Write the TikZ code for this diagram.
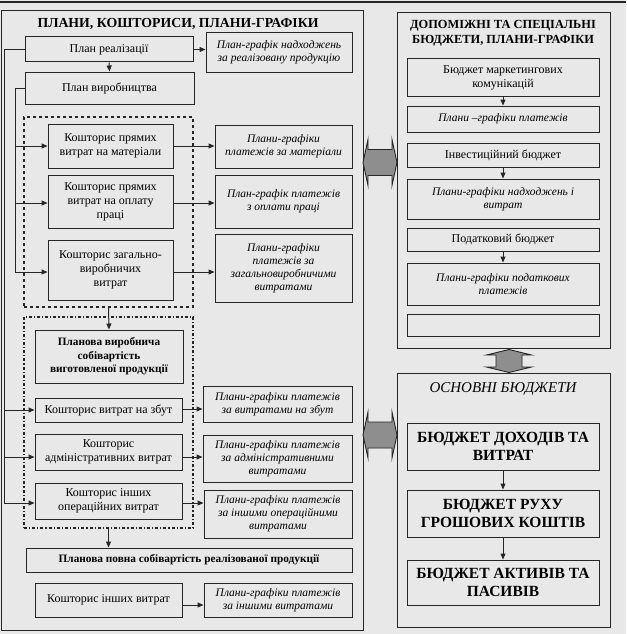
\documentclass[tikz,border=0pt]{standalone}
\usepackage{fontspec}
\setmainfont{Liberation Serif}
\usetikzlibrary{arrows.meta,calc}
\definecolor{Paper}{HTML}{E8E8E8}
\definecolor{Ink}{HTML}{262626}
\definecolor{BlockGrey}{HTML}{8E8E8E}
\begin{document}
\begin{tikzpicture}[x=1pt, y=-1pt,
  box/.style={draw=Ink, fill=Paper, line width=1pt, align=center, inner sep=2pt, font=\fontsize{12}{14}\selectfont},
  ibox/.style={box, font=\fontsize{11.5}{13}\selectfont\itshape},
  bbox/.style={box, font=\fontsize{11.3}{13.5}\selectfont\bfseries},
  bigbox/.style={box, font=\fontsize{15.5}{18}\selectfont\bfseries},
  panel/.style={draw=Ink, line width=1pt},
  grp/.style={draw=Ink, line width=1.2pt, #1},
  arr/.style={draw=Ink, line width=1pt, -{Triangle[length=6pt,width=5pt]}},
  wire/.style={draw=Ink, line width=1pt},
  blockarrow/.style={draw=Ink, fill=BlockGrey, line width=0.9pt, line join=miter},
]
\useasboundingbox[fill=Paper] (0,0) rectangle (626,634);
% ---------------- frames
\draw[wire, line width=1.3pt] (0,2) -- (626,2);
\draw[panel] (1,11) rectangle (363,630);
\draw[panel] (397,13) rectangle (610,348);
\draw[panel] (397,373) rectangle (610,627);
% ---------------- left column: plans
\node[font=\fontsize{13.8}{16}\selectfont\bfseries] (T1) at (178,24) {ПЛАНИ, КОШТОРИСИ, ПЛАНИ-ГРАФІКИ};
\node[box, minimum width=168pt, minimum height=25pt] (PR) at (109,49.5) {План реалізації};
\node[ibox, minimum width=146pt, minimum height=39pt] (GR) at (279,52.5) {План-графік надходжень\\ за реалізовану продукцію};
\node[box, minimum width=169pt, minimum height=32pt] (PV) at (109.5,88) {План виробництва};
% direct costs group
\node[grp={dashed}, minimum width=169pt, minimum height=190pt] (GA) at (108.5,212) {};
\node[box, minimum width=125pt, minimum height=44pt] (KM) at (110.5,146) {Кошторис прямих\\ витрат на матеріали};
\node[ibox, minimum width=137pt, minimum height=43pt] (GM) at (283.5,146.5) {Плани-графіки\\ платежів за матеріали};
\node[box, minimum width=125pt, minimum height=53pt] (KP) at (110.5,201.5) {Кошторис прямих\\ витрат на оплату\\ праці};
\node[ibox, minimum width=137pt, minimum height=53pt] (GP) at (283.5,201.5) {План-графік платежів\\ з оплати праці};
\node[box, minimum width=125pt, minimum height=60pt] (KV) at (110.5,270) {Кошторис загально-\\ виробничих\\ витрат};
\node[ibox, minimum width=137pt, minimum height=68pt] (GV) at (283.5,268) {Плани-графіки\\ платежів за\\ загальновиробничими\\ витратами};
% operating costs group
\node[grp={dash dot}, minimum width=169pt, minimum height=211pt] (GB) at (108.5,422.5) {};
\node[bbox, minimum width=148pt, minimum height=53pt] (PS) at (109,356.5) {Планова виробнича\\ собівартість\\ виготовленої продукції};
\node[box, minimum width=147pt, minimum height=24pt] (KZ) at (108.5,410) {Кошторис витрат на збут};
\node[ibox, minimum width=149pt, minimum height=36pt] (GZ) at (277.5,404) {Плани-графіки платежів\\ за витратами на збут};
\node[box, minimum width=147pt, minimum height=36pt] (KA) at (108.5,452) {Кошторис\\ адміністративних витрат};
\node[ibox, minimum width=149pt, minimum height=47pt] (GD) at (277.5,458.5) {Плани-графіки платежів\\ за адміністративними\\ витратами};
\node[box, minimum width=147pt, minimum height=36pt] (KO) at (108.5,501) {Кошторис інших\\ операційних витрат};
\node[ibox, minimum width=148pt, minimum height=48pt] (GO) at (278,514) {Плани-графіки платежів\\ за іншими операційними\\ витратами};
\node[bbox, minimum width=326pt, minimum height=24pt] (PF) at (189,560) {Планова повна собівартість реалізованої продукції};
\node[box, minimum width=147pt, minimum height=34pt] (KI) at (108.5,600) {Кошторис інших витрат};
\node[ibox, minimum width=148pt, minimum height=34pt] (GI) at (278,600) {Плани-графіки платежів\\ за іншими витратами};
% feeds from the two plans
\coordinate (spineA) at (4,503);
\coordinate (spineB) at (15,272);
\draw[arr] (PR.west) -| (spineA) -- (KO.west |- spineA);
\draw[arr] (spineA |- KZ.west) -- (KZ.west);
\draw[arr] (spineA |- 0,457) -- (KA.west |- 0,457);
\draw[arr] (PV.west) -| (spineB) -- (KV.west |- spineB);
\draw[arr] (spineB |- KM.west) -- (KM.west);
\draw[arr] (spineB |- 0,203) -- (KP.west |- 0,203);
\draw[arr] (PR.south) -- (PV.north);
\draw[arr] (GA.south) -- (PS.north);
\draw[arr] (GB.south) -- (GB.south |- PF.north);
% costs to payment schedules
\draw[arr] (PR.east) -- (PR.east -| GR.west);
\draw[arr] (KM.east) -- (KM.east -| GM.west);
\draw[arr] (KP.east |- 0,203) -- (GP.west |- 0,203);
\draw[arr] (KV.east |- 0,272) -- (GV.west |- 0,272);
\draw[arr] (KZ.east |- 0,409) -- (GZ.west |- 0,409);
\draw[arr] (KA.east |- 0,457) -- (GD.west |- 0,457);
\draw[arr] (KO.east |- 0,503) -- (GO.west |- 0,503);
\draw[arr] (KI.east |- 0,605) -- (GI.west |- 0,605);
% ---------------- right column: auxiliary budgets
\node[font=\fontsize{12.4}{15}\selectfont\bfseries, align=center] (T2) at (503,33) {ДОПОМІЖНІ ТА СПЕЦІАЛЬНІ\\ БЮДЖЕТИ, ПЛАНИ-ГРАФІКИ};
\node[box, minimum width=192pt, minimum height=37pt] (BM) at (503,77.5) {Бюджет маркетингових\\ комунікацій};
\node[ibox, minimum width=192pt, minimum height=26pt] (GM2) at (503,119) {Плани –графіки платежів};
\node[box, minimum width=192pt, minimum height=24pt] (BI) at (503,155) {Інвестиційний бюджет};
\node[ibox, minimum width=192pt, minimum height=40pt] (GI2) at (503,199) {Плани-графіки надходжень і\\ витрат};
\node[box, minimum width=192pt, minimum height=23pt] (BT) at (503,239.5) {Податковий бюджет};
\node[ibox, minimum width=192pt, minimum height=42pt] (GT) at (503,284) {Плани-графіки податкових\\ платежів};
\node[box, minimum width=192pt, minimum height=22pt] (BE) at (503,325) {};
\draw[arr] (BM.south) -- (GM2.north);
\draw[arr] (BI.south) -- (GI2.north);
\draw[arr] (BT.south) -- (GT.north);
% ---------------- right column: main budgets
\node[font=\fontsize{15}{18}\selectfont\itshape] (T3) at (503,389) {ОСНОВНІ БЮДЖЕТИ};
\node[bigbox, minimum width=192pt, minimum height=47pt] (BD) at (503,446.5) {БЮДЖЕТ ДОХОДІВ ТА\\ ВИТРАТ};
\node[bigbox, minimum width=192pt, minimum height=47pt] (BC) at (503,513.5) {БЮДЖЕТ РУХУ\\ ГРОШОВИХ КОШТІВ};
\node[bigbox, minimum width=192pt, minimum height=45pt] (BA) at (503,582.5) {БЮДЖЕТ АКТИВІВ ТА\\ ПАСИВІВ};
\draw[arr] (BD.south) -- (BC.north);
\draw[arr] (BC.south) -- (BA.north);
% ---------------- grey two-way block arrows
\foreach \yy in {162.5,435} {
  \draw[blockarrow, shift={(380,\yy)}] (-17,0) -- (-12,-23) -- (-12,-13) -- (12,-13) -- (12,-23) -- (17,0)
    -- (12,23) -- (12,13) -- (-12,13) -- (-12,23) -- cycle;
}
\draw[blockarrow, shift={(509,361)}] (0,-11.5) -- (-22.5,-6) -- (-13,-6) -- (-13,6) -- (-22.5,6) -- (0,11.5)
  -- (22.5,6) -- (13,6) -- (13,-6) -- (22.5,-6) -- cycle;
\end{tikzpicture}
\end{document}
